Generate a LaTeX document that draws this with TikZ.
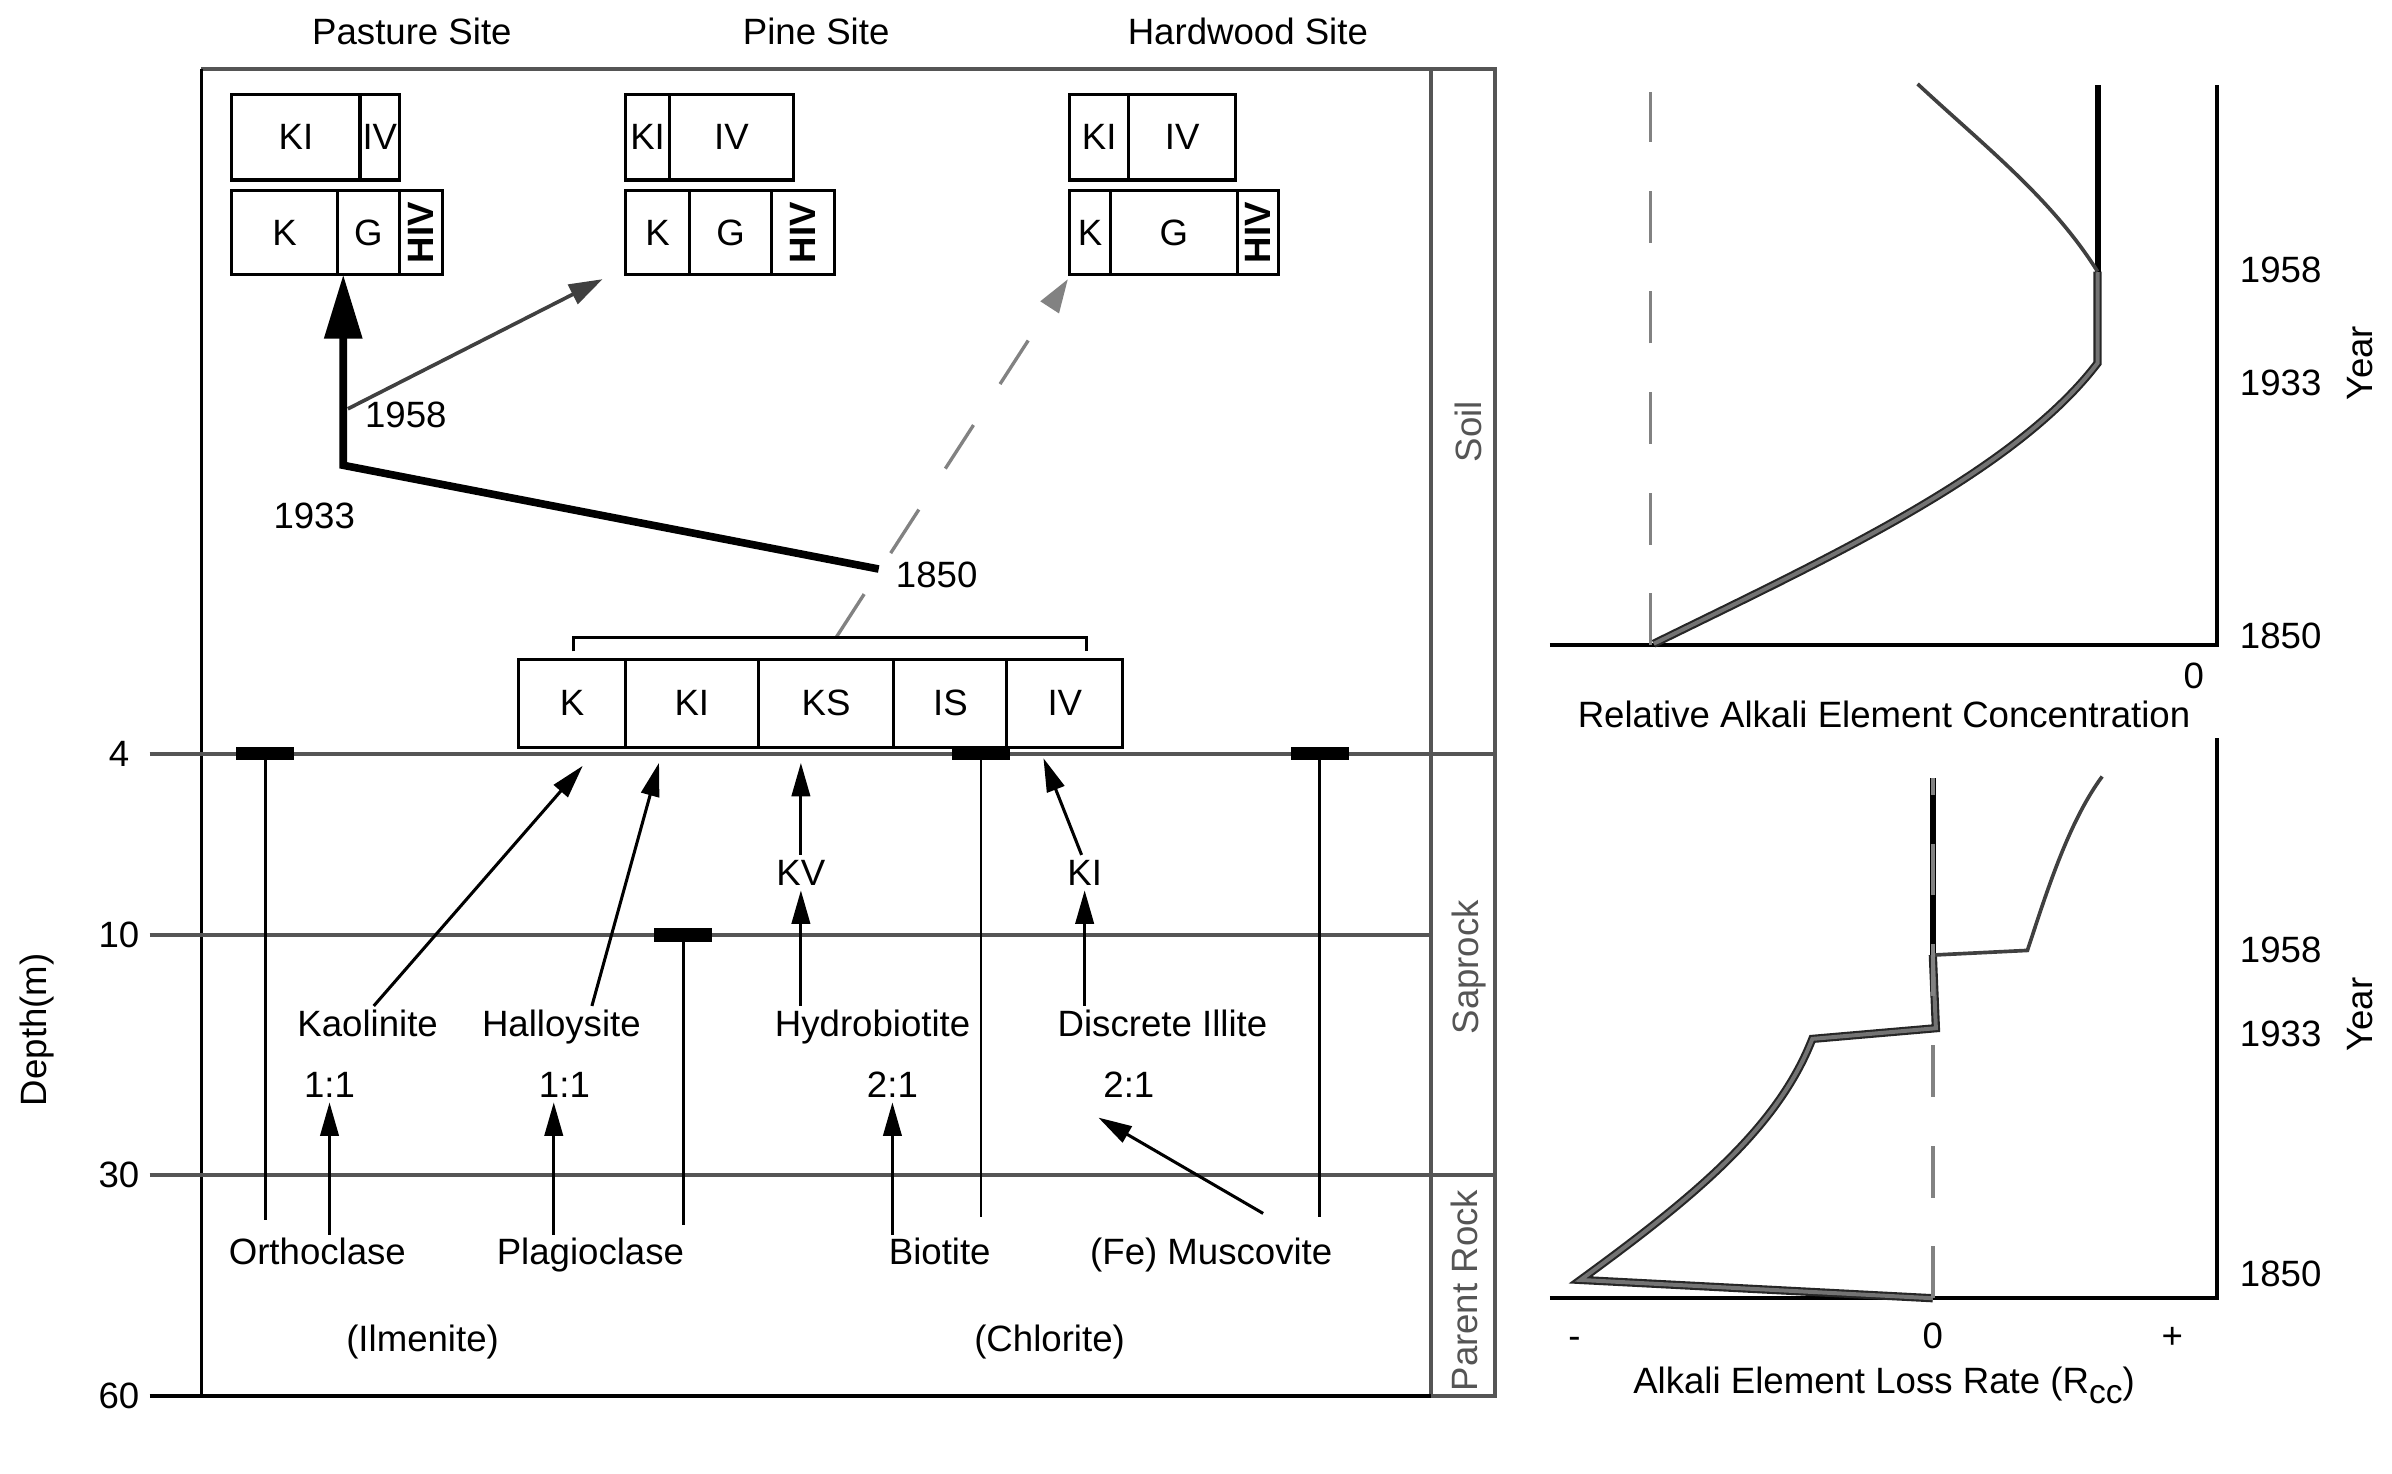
\documentclass[tikz,border=0pt]{standalone}
\usepackage{fontspec}
\setmainfont{Liberation Sans}
\usepackage{xcolor}
\definecolor{frameg}{RGB}{85,85,85}
\definecolor{curveg}{RGB}{64,64,64}
\definecolor{dashg}{RGB}{130,130,130}
\usepackage{tikz}
\usetikzlibrary{arrows.meta,positioning}
\tikzstyle{every node} = [font=\fontsize{12pt}{14pt}\selectfont, inner sep=1pt, text height=8.7pt, text depth=0.5pt]
\tikzstyle{cell} = [draw, line width=1pt, inner sep=0pt, outer sep=0pt]
\tikzstyle{hcell} = [cell, rotate=90, minimum width=27.5pt, font=\fontsize{12pt}{14pt}\selectfont\bfseries]
\tikzstyle{bar} = [fill=black, inner sep=0pt, minimum width=19pt, minimum height=4.5pt, text height=0pt, text depth=0pt]
\tikzstyle{zone} = [rotate=90, text=frameg]
\tikzstyle{frame} = [line width=1.3pt, draw=frameg]
\tikzstyle{stem} = [line width=0.9pt, draw=black]
\tikzstyle{arr} = [line width=1pt, draw=black, -{Triangle[length=11pt,width=6pt]}]
\tikzstyle{elec} = [line width=2.5pt, draw=black, -{Triangle[length=21pt,width=12pt]}]
\tikzstyle{grar} = [line width=1.2pt, draw=curveg, -{Triangle[length=11pt,width=7pt]}]
\tikzstyle{dsh} = [line width=1.1pt, draw=dashg, dash pattern=on 17pt off 16pt]
\tikzstyle{dbl} = [draw=black!85, line width=0.7pt, double=black!55, double distance=1.3pt]
\tikzstyle{thin} = [draw=curveg, line width=1.2pt]
\tikzstyle{axis} = [draw=black, line width=1.3pt]

\begin{document}
\begin{tikzpicture}[x=0.5pt,y=-0.5pt]
    \useasboundingbox (0,0) rectangle (1568,966);
    % depth column and layers
    \path[frame] (132,45) -- (980,45) -- (980,915) -- (938,915);
    \path[frame] (938,45) -- (938,915);
    \path[draw, line width=1pt] (132,45) -- (132,915);
    \path[frame] (98,494) -- (980,494);
    \path[frame] (98,613) -- (938,613);
    \path[frame] (98,770) -- (980,770);
    \path[draw, line width=1.5pt] (98,915) -- (938,915);
    \node[zone] (soil) at (963,283) {Soil};
    \node[zone] (sap) at (961,634) {Saprock};
    \node[zone] (par) at (960,846) {Parent Rock};
    \foreach \d/\y in {4/494,10/613,30/770,60/915} {
        \node (d\d) at (78,\y) {\d};
    }
    \node[rotate=90] (depth) at (22,675) {Depth(m)};
    % sites
    \node (tpa) at (270,21) {Pasture Site};
    \node (tpi) at (535,21) {Pine Site};
    \node (thw) at (818,21) {Hardwood Site};
    \foreach \n/\t/\x/\w in {pa1/KI/194/42,pa2/IV/249/13,pi1/KI/424.5/14.5,pi2/IV/479.5/40.5,hw1/KI/720.5/19.5,hw2/IV/775/35} {
        \node[cell, minimum height=28pt, minimum width=\w pt] (\n) at (\x,90) {\t};
    }
    \foreach \n/\t/\x/\w in {pb1/K/186.5/34.5,pb2/G/241.5/20.5,qb1/K/431/21,qb2/G/479/27,hb1/K/714.5/13.5,hb2/G/769.5/41.5} {
        \node[cell, minimum height=27.5pt, minimum width=\w pt] (\n) at (\x,152.5) {\t};
    }
    \foreach \n/\x/\w in {pb3/276/14,qb3/526.5/20.5,hb3/824.5/13.5} {
        \node[hcell, minimum height=\w pt] (\n) at (\x,152.5) {HIV};
    }
    % soil history
    \coordinate (c50) at (576,373);
    \coordinate (c33) at (225,305);
    \coordinate (c58) at (228,268);
    \coordinate (brk) at (548,418);
    \path[elec] (c50) -- (c33) -- (c33 |- pb1.south);
    \path[grar] (c58) -- ([xshift=-7.5pt,yshift=-1.5pt]qb1.south west);
    \path[dsh, -{Triangle[length=11pt,width=7pt]}] (brk) -- ([xshift=-0.5pt,yshift=-1.5pt]hb1.south west);
    \node (y58) at (266,272) {1958};
    \node (y33) at (206,338) {1933};
    \node (y50) at (614,377) {1850};
    \path[draw, line width=1pt] (376,427) -- (376,418) -- (712,418) -- (712,427);
    \foreach \n/\t/\x/\w in {mK/K/375/35,mKI/KI/453.5/43.5,mKS/KS/541.5/44.5,mIS/IS/623/37,mIV/IV/698/38} {
        \node[cell, minimum height=29pt, minimum width=\w pt] (\n) at (\x,461) {\t};
    }
    % mineral sources
    \foreach \n/\x/\y/\e in {b1/174/494/800,b2/448/613/803,b3/643/494/798,b4/865/494/798} {
        \node[bar] (\n) at (\x,\y) {};
        \path[stem] (\n.center) -- (\x,\e);
    }
    \node (kao) at (241,671) {Kaolinite};
    \node (hal) at (368,671) {Halloysite};
    \node (hyd) at (572,671) {Hydrobiotite};
    \node (dil) at (762,671) {Discrete Illite};
    \node (kv) at (525,572) {KV};
    \node (ki) at (711,572) {KI};
    \node (r1) at (216,711) {1:1};
    \node (r2) at (370,711) {1:1};
    \node (r3) at (585,711) {2:1};
    \node (r4) at (740,711) {2:1};
    \node (orth) at (208,821) {Orthoclase};
    \node (plag) at (387,821) {Plagioclase};
    \node (bio) at (616,821) {Biotite};
    \node (musc) at (794,821) {(Fe) Muscovite};
    \node (ilm) at (277,878) {(Ilmenite)};
    \node (chl) at (688,878) {(Chlorite)};
    \coordinate (tK) at (382,502);
    \coordinate (tKI) at (432,500);
    \coordinate (tKS) at (525,500);
    \coordinate (tIV) at (684,497);
    \coordinate (tR2) at ([xshift=-3.5pt]r2.south);
    \path[arr] ([xshift=2pt]kao.north) -- (tK);
    \path[arr] ([xshift=10pt]hal.north) -- (tKI);
    \path[arr] (hyd.north -| kv) -- (kv.south);
    \path[arr] (kv.north) -- (tKS);
    \path[arr] (dil.north -| ki) -- (ki.south);
    \path[arr] ([xshift=-1pt]ki.north) -- (tIV);
    \path[arr] (orth.north -| r1) -- (r1.south);
    \path[arr] (plag.north -| tR2) -- (tR2);
    \path[arr] (bio.north -| r3) -- (r3.south);
    \path[arr] ([xshift=17pt,yshift=7pt]musc.north) -- ([xshift=-10pt,yshift=-5pt]r4.south);
    % concentration plot
    \path[axis] (1016,423) -- (1453,423) -- (1453,56);
    \path[dsh] (1082,423) -- (1082,60);
    \path[dbl] (1084,422) .. controls (1200,365) and (1320,310) .. (1375,238) -- (1375,178);
    \path[draw, line width=2pt] (1375,178) -- (1375,56);
    \path[thin] (1375,178) .. controls (1345,130) and (1300,95) .. (1257,55);
    \node (a58) at (1495,177) {1958};
    \node (a33) at (1495,251) {1933};
    \node (a50) at (1495,417) {1850};
    \node[rotate=90] (ayr) at (1547,238) {Year};
    \node (azero) at (1438,443) {0};
    \node (alab) at (1235,469) {Relative Alkali Element Concentration};
    % loss rate plot
    \path[axis] (1016,851) -- (1453,851) -- (1453,484);
    \path[dbl] (1267,851) -- (1036,839) .. controls (1110,785) and (1165,740) .. (1188,681) -- (1269,674) -- (1267,626);
    \path[draw, line width=2pt] (1267,626) -- (1267,510);
    \path[thin] (1268,626) -- (1329,623) .. controls (1340,590) and (1355,540) .. (1378,509);
    \path[dsh] (1267,851) -- (1267,510);
    \node (b58) at (1495,623) {1958};
    \node (b33) at (1495,678) {1933};
    \node (b50) at (1495,835) {1850};
    \node[rotate=90] (byr) at (1547,665) {Year};
    \node (bneg) at (1032,876) {-};
    \node (bzero) at (1267,876) {0};
    \node (bpos) at (1424,876) {+};
    \node (blab) at (1235,905) {Alkali Element Loss Rate (R\raisebox{-0.55ex}{\fontsize{11pt}{12pt}\selectfont cc})};
  \end{tikzpicture}
\end{document}
